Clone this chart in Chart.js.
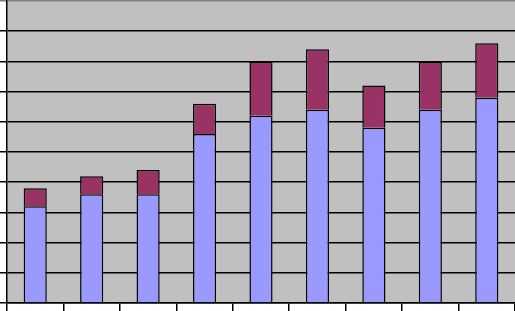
<!DOCTYPE html>
<html lang="en">
<head>
    <meta charset="UTF-8">
    <title>Stacked Columns</title>
    <style>
        body {
            margin: 0;
            background: #FFFFFF;
        }

        .chart-container {
            width: 515px;
            height: 311px;
            position: relative;
        }
    </style>
</head>
<body>
    <div class="chart-container">
        <canvas id="stackChart"></canvas>
    </div>

    <script src="https://cdn.jsdelivr.net/npm/chart.js"></script>
    <script>
        const categories = ['1', '2', '3', '4', '5', '6', '7', '8', '9'];
        const lowerValues = [3.2, 3.6, 3.6, 5.6, 6.2, 6.4, 5.8, 6.4, 6.8];
        const upperValues = [0.6, 0.6, 0.8, 1.0, 1.8, 2.0, 1.4, 1.6, 1.8];
        const yTicks = [0, 1, 2, 3, 4, 5, 6, 7, 8, 9, 10];

        // grey plot area behind the bars
        const plotBackground = {
            id: 'plotBackground',
            beforeDraw(chart) {
                const { ctx, chartArea } = chart;
                ctx.save();
                ctx.fillStyle = '#C0C0C0';
                ctx.fillRect(chartArea.left, chartArea.top, chartArea.right - chartArea.left, chartArea.bottom - chartArea.top);
                ctx.restore();
            }
        };

        function renderChart() {
            const ctx = document.getElementById('stackChart').getContext('2d');
            new Chart(ctx, {
                type: 'bar',
                data: {
                    labels: categories,
                    datasets: [{
                        label: 'Series 1',
                        data: lowerValues,
                        backgroundColor: '#9999FF',
                        borderColor: '#000000',
                        borderWidth: 1.5,
                        borderSkipped: 'start'
                    }, {
                        label: 'Series 2',
                        data: upperValues,
                        backgroundColor: '#993366',
                        borderColor: '#000000',
                        borderWidth: 1.5,
                        borderSkipped: 'start'
                    }]
                },
                options: {
                    responsive: true,
                    maintainAspectRatio: false,
                    animation: false,
                    layout: { padding: { top: 1 } },
                    datasets: {
                        bar: { categoryPercentage: 1, barPercentage: 0.41 }
                    },
                    plugins: {
                        legend: { display: false },
                        tooltip: { enabled: false }
                    },
                    scales: {
                        x: {
                            stacked: true,
                            ticks: { display: false },
                            grid: {
                                drawOnChartArea: false,
                                drawTicks: true,
                                tickLength: 8,
                                color: '#000000',
                                lineWidth: 1.5
                            },
                            border: { color: '#000000', width: 1.5 }
                        },
                        y: {
                            stacked: true,
                            min: 0,
                            max: 10,
                            afterBuildTicks(scale) {
                                scale.ticks = yTicks.map(v => ({ value: v }));
                            },
                            ticks: { display: false },
                            grid: {
                                tickLength: 7,
                                color: (c) => c.tick && c.tick.value === 10 ? '#808080' : '#000000',
                                lineWidth: 1.5
                            },
                            border: { color: '#000000', width: 1.5 }
                        }
                    }
                },
                plugins: [plotBackground]
            });
        }

        renderChart();
    </script>
</body>
</html>
